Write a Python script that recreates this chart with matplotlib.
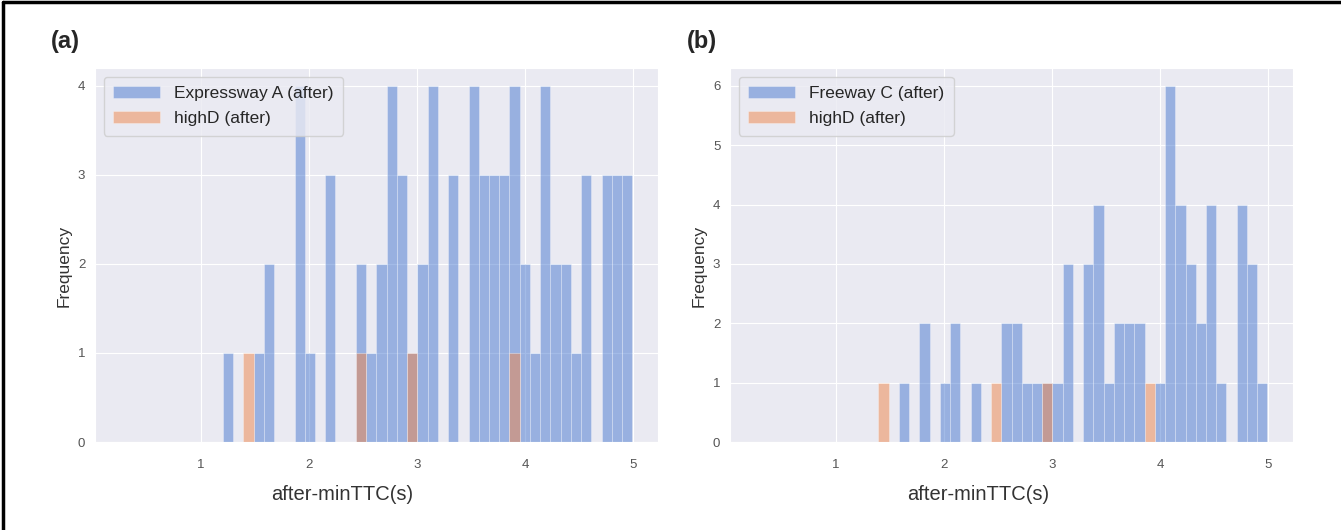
import numpy as np
import matplotlib
matplotlib.use("Agg")
import matplotlib.pyplot as plt
import seaborn as sns
from matplotlib.lines import Line2D
from matplotlib.ticker import MultipleLocator

# shared histogram bins (after-minTTC in s)
bin_edges = np.linspace(0.26, 4.99, 51)

# counts per bin
expressway_a = [0] * 10 + [1, 0, 0, 1, 2, 0, 0, 4, 1, 0,
                           3, 0, 0, 2, 1, 2, 4, 3, 1, 2,
                           4, 0, 3, 0, 4, 3, 3, 3, 4, 2,
                           1, 4, 2, 2, 1, 3, 0, 3, 3, 3]
freeway_c = [0] * 10 + [0, 0, 0, 0, 1, 0, 2, 0, 1, 2,
                        0, 1, 0, 0, 2, 2, 1, 1, 1, 1,
                        3, 0, 3, 4, 1, 2, 2, 2, 0, 1,
                        6, 4, 3, 2, 4, 1, 0, 4, 3, 1]
highd = [0] * 10 + [0, 0, 1, 0, 0, 0, 0, 0, 0, 0,
                    0, 0, 0, 1, 0, 0, 0, 0, 1, 0,
                    0, 0, 0, 0, 0, 0, 0, 0, 1, 0,
                    0, 0, 0, 0, 0, 0, 0, 0, 0, 0]

panels = [
    ("(a)", "Expressway A (after)", expressway_a, 4),
    ("(b)", "Freeway C (after)", freeway_c, 6),
]

sns.set_style("darkgrid")
plt.rcParams["font.family"] = ["Liberation Sans", "DejaVu Sans"]

muted = sns.color_palette("muted")
centers = (bin_edges[:-1] + bin_edges[1:]) / 2

fig = plt.figure(figsize=(13.41, 5.30), dpi=100)
lefts = [0.0708, 0.5444]

for left, (tag, name, counts, ymax) in zip(lefts, panels):
    ax = fig.add_axes([left, 0.166, 0.4198, 0.7057])
    ax.hist(centers, bins=bin_edges, weights=counts, color=muted[0],
            alpha=0.5, edgecolor="white", linewidth=0.4, label=name)
    ax.hist(centers, bins=bin_edges, weights=highd, color=muted[1],
            alpha=0.5, edgecolor="white", linewidth=0.4, label="highD (after)")
    ax.yaxis.set_major_locator(MultipleLocator(1))
    ax.set_ylim(0, ymax * 1.05)
    ax.tick_params(labelsize=9.5, colors="#555555")
    ax.tick_params(axis="x", pad=9)
    ax.set_xlabel("after-minTTC(s)", fontsize=14.5, color="#333333",
                  labelpad=6)
    ax.xaxis.set_label_coords(0.44, -0.115)
    ax.set_ylabel("Frequency", fontsize=12.5, color="#333333")
    ax.yaxis.set_label_coords(-0.041, 0.47)
    ax.legend(loc="upper left", fontsize=12.5, handlelength=2.7,
              labelspacing=0.55, borderaxespad=0.5, borderpad=0.55)
    fig.text(left - 0.0325, 0.9, tag, fontsize=17, fontweight="bold",
             ha="left", va="bottom")

# frame lines at the left and top of the picture
fig.add_artist(Line2D([0.002, 0.002], [0, 0.996], transform=fig.transFigure,
                      color="black", lw=2.5))
fig.add_artist(Line2D([0.002, 1.0], [0.996, 0.996], transform=fig.transFigure,
                      color="black", lw=2.5))

fig.savefig("out.png", dpi=100)
